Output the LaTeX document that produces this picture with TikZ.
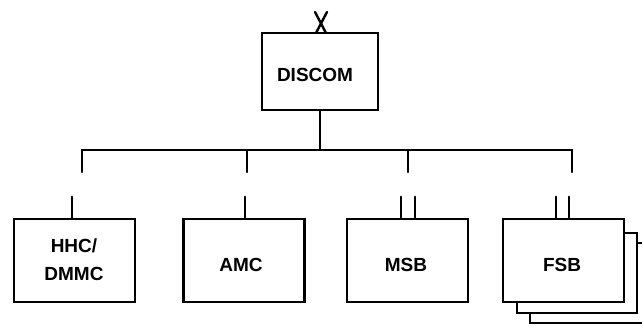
\documentclass[tikz,border=0pt]{standalone}
\usepackage{fontspec}
\setmainfont{Liberation Sans}
\begin{document}
\begin{tikzpicture}[x=1pt,y=-1pt,
  unit/.style={draw=black,line width=2.4pt,fill=white,minimum width=121pt,minimum height=83pt,
    inner sep=0pt,font=\bfseries\fontsize{19}{28}\selectfont,align=center,text=black},
  label/.style={inner sep=0pt,font=\bfseries\fontsize{19}{28}\selectfont,align=center,text=black},
  wire/.style={line width=2.4pt,line cap=round}]
\useasboundingbox (0,0) rectangle (642,326);
% stacked copies behind FSB
\draw[wire,fill=white] (530,243) rectangle (646,323);
\draw[wire,fill=white] (517,233) rectangle (637,313);
% command and units
\node[unit,minimum width=116pt,minimum height=77pt] (discom) at (320,71.5) {};
\node[unit] (hhc) at (74.5,260.5) {};
\node[unit] (amc) at (244,260.5) {};
\node[unit] (msb) at (407.5,260.5) {};
\node[unit] (fsb) at (563.5,260.5) {};
\node[label] at (315,75) {DISCOM};
\node[label] at (74,259.5) {HHC/\\DMMC};
\node[label] at (241,265) {AMC};
\node[label] at (406,265) {MSB};
\node[label] at (562,265) {FSB};
% crossed mark above DISCOM
\draw[wire] (315,12) -- (326,33);
\draw[wire] (327,12) -- (316,33);
% distribution bus
\coordinate (bus) at (320,150);
\draw[wire] (discom.south) -- (bus);
\draw[wire] (82,172) -- (82,150) -- (572,150) -- (572,172);
\draw[wire] (247,150) -- (247,172);
\draw[wire] (408,150) -- (408,172);
% stubs entering the units
\draw[wire] (hhc.north -| 72,0) -- ++(0,-21);
\draw[wire] (amc.north -| 245,0) -- ++(0,-21);
\draw[wire] (msb.north -| 401,0) -- ++(0,-21);
\draw[wire] (msb.north -| 415,0) -- ++(0,-21);
\draw[wire] (fsb.north -| 556,0) -- ++(0,-21);
\draw[wire] (fsb.north -| 569,0) -- ++(0,-21);
\end{tikzpicture}
\end{document}
